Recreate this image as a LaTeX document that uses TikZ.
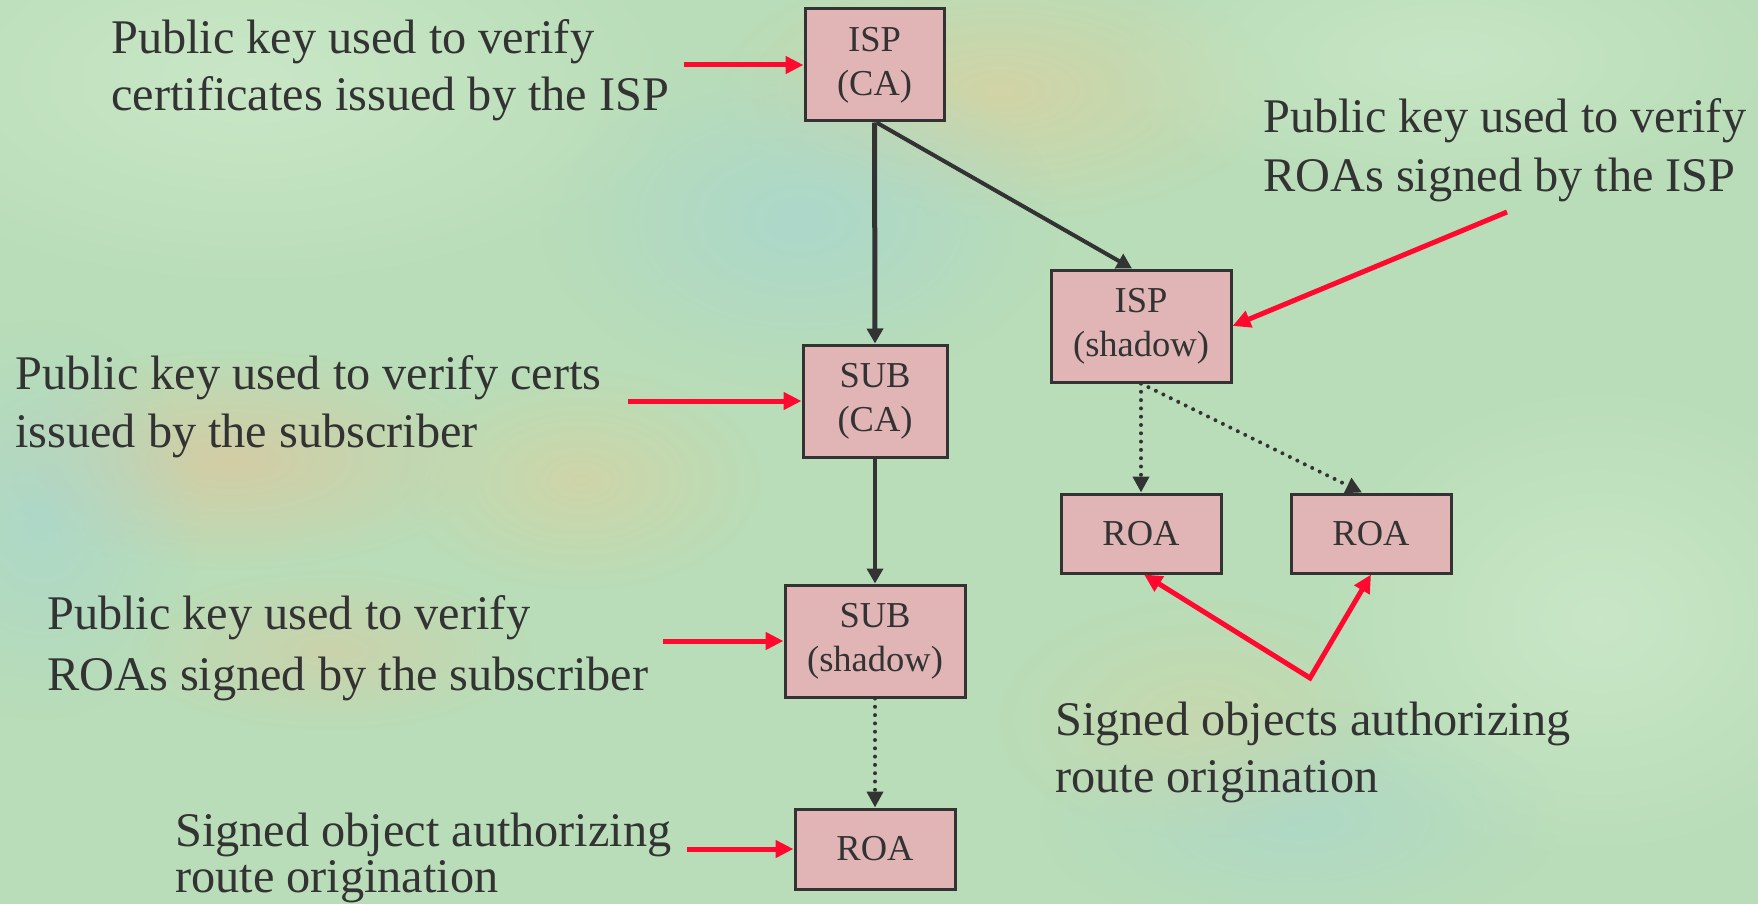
\documentclass[tikz,border=0pt]{standalone}
\usepackage{fontspec}
\setmainfont{Liberation Serif}
\usetikzlibrary{arrows.meta,fadings,calc}

% two stacked lines; the node's baseline is that of the first line
\newcommand\twoline[3]{\vtop{\baselineskip=#1\relax\lineskiplimit=-100pt\hbox{#2}\hbox{#3}}}

\definecolor{ink}{HTML}{333333}
\definecolor{boxfill}{HTML}{E1B5B5}
\definecolor{ptred}{HTML}{FF0A2E}
\definecolor{bgbase}{HTML}{B9DDB8}
\definecolor{bglight}{HTML}{CBE8C8}
\definecolor{bgcyan}{HTML}{A9D6CF}
\definecolor{bgsand}{HTML}{D4D3A4}
\definecolor{bgtan}{HTML}{D6CBA2}

% soft radial spot for the backdrop
\tikzfading[name=softspot, inner color=transparent!0, outer color=transparent!100]

\begin{document}
\begin{tikzpicture}[x=1pt,y=-1pt,
  box/.style={draw=ink, fill=boxfill, line width=3pt, inner sep=0pt, align=center,
    text=ink, font=\fontsize{36.5}{44}\selectfont},
  lbl/.style={inner sep=0pt, anchor=base west, text=ink, font=\fontsize{48.3}{57}\selectfont},
  link/.style={draw=ink, line width=4pt, -{Triangle[length=15pt,width=16pt]}},
  dotlink/.style={draw=ink, line width=4pt, line cap=round, dash pattern=on 0pt off 8.3pt,
    -{Triangle[length=16pt,width=16pt]}},
  pointer/.style={draw=ptred, line width=5pt, -{Triangle[length=18pt,width=17pt]}},
  blot/.style={path fading=softspot}
]
\useasboundingbox (0,0) rectangle (1758,904);

% textured backdrop
\begin{scope}
  \clip (0,0) rectangle (1758,904);
  \fill[bgbase] (0,0) rectangle (1758,904);
  \fill[bglight, blot, opacity=0.9] (250,80) ellipse [x radius=450, y radius=220];
  \fill[bgsand, blot, opacity=0.9] (1000,90) ellipse [x radius=280, y radius=130];
  \fill[bgcyan, blot, opacity=0.8] (800,220) ellipse [x radius=260, y radius=170];
  \fill[bgtan, blot, opacity=0.9] (230,460) ellipse [x radius=260, y radius=110];
  \fill[bgsand, blot, opacity=0.8] (580,480) ellipse [x radius=180, y radius=110];
  \fill[bgcyan, blot, opacity=0.7] (40,520) ellipse [x radius=160, y radius=200];
  \fill[bglight, blot, opacity=0.9] (1600,620) ellipse [x radius=300, y radius=250];
  \fill[bgcyan, blot, opacity=0.6] (1300,820) ellipse [x radius=260, y radius=120];
  \fill[bgtan, blot, opacity=0.6] (330,650) ellipse [x radius=200, y radius=80];
  \fill[bglight, blot, opacity=0.8] (1450,60) ellipse [x radius=350, y radius=150];
  \fill[bgsand, blot, opacity=0.5] (1200,720) ellipse [x radius=200, y radius=120];
\end{scope}

% certificate boxes
\node[box, minimum width=139pt, minimum height=112pt] (ispca) at (874.5,65) {ISP\\(CA)};
\node[box, minimum width=180pt, minimum height=112pt] (ispsh) at (1141,326) {ISP\\(shadow)};
\node[box, minimum width=160pt, minimum height=79pt]  (roaa)  at (1141,533.5) {ROA};
\node[box, minimum width=160pt, minimum height=79pt]  (roab)  at (1371,533.5) {ROA};
\node[box, minimum width=144pt, minimum height=112pt] (subca) at (875,401) {SUB\\(CA)};
\node[box, minimum width=180pt, minimum height=112pt] (subsh) at (875,641) {SUB\\(shadow)};
\node[box, minimum width=160pt, minimum height=80pt]  (roac)  at (875,849) {ROA};

% hierarchy
\draw[link, line width=5pt] (ispca.south) -- (subca.north);
\draw[link] ([xshift=2pt]ispca.south) -- ([xshift=-9pt]ispsh.north);
\draw[link] (subca.south) -- (subsh.north);
\draw[dotlink] (subsh.south) -- (roac.north);
\draw[dotlink] (ispsh.south) -- (roaa.north);
\draw[dotlink] (ispsh.south) -- ([xshift=-9pt]roab.north);

% explanations
\node[lbl] (t1) at (111,54)  {\twoline{57pt}{Public key used to verify}{certificates issued by the ISP}};
\node[lbl] (t2) at (1263,133) {\twoline{59pt}{Public key used to verify}{ROAs signed by the ISP}};
\node[lbl] (t3) at (15,389)  {\twoline{58pt}{Public key used to verify certs}{issued by the subscriber}};
\node[lbl] (t4) at (47,629)  {\twoline{61pt}{Public key used to verify}{ROAs signed by the subscriber}};
\node[lbl] (t5) at (175,846) {\twoline{46pt}{Signed object authorizing}{route origination}};
\node[lbl] (t6) at (1055,735) {\twoline{57pt}{Signed objects authorizing}{route origination}};

% pointers
\coordinate (p1) at (684,65);
\coordinate (p2) at (1507,212);
\coordinate (p3) at (628,401);
\coordinate (p4) at (663,641);
\coordinate (p5) at (687,849);
\coordinate (p6) at (1310,678);
\draw[pointer] (p1) -- (ispca.west);
\draw[pointer] (p2) -- (ispsh.east);
\draw[pointer] (p3) -- (subca.west);
\draw[pointer] (p4) -- (subsh.west);
\draw[pointer] (p5) -- (roac.west);
\draw[pointer, {Triangle[length=18pt,width=17pt]}-{Triangle[length=18pt,width=17pt]}, line join=miter]
  ([xshift=3pt]roaa.south) -- (p6) -- (roab.south);
\end{tikzpicture}
\end{document}
